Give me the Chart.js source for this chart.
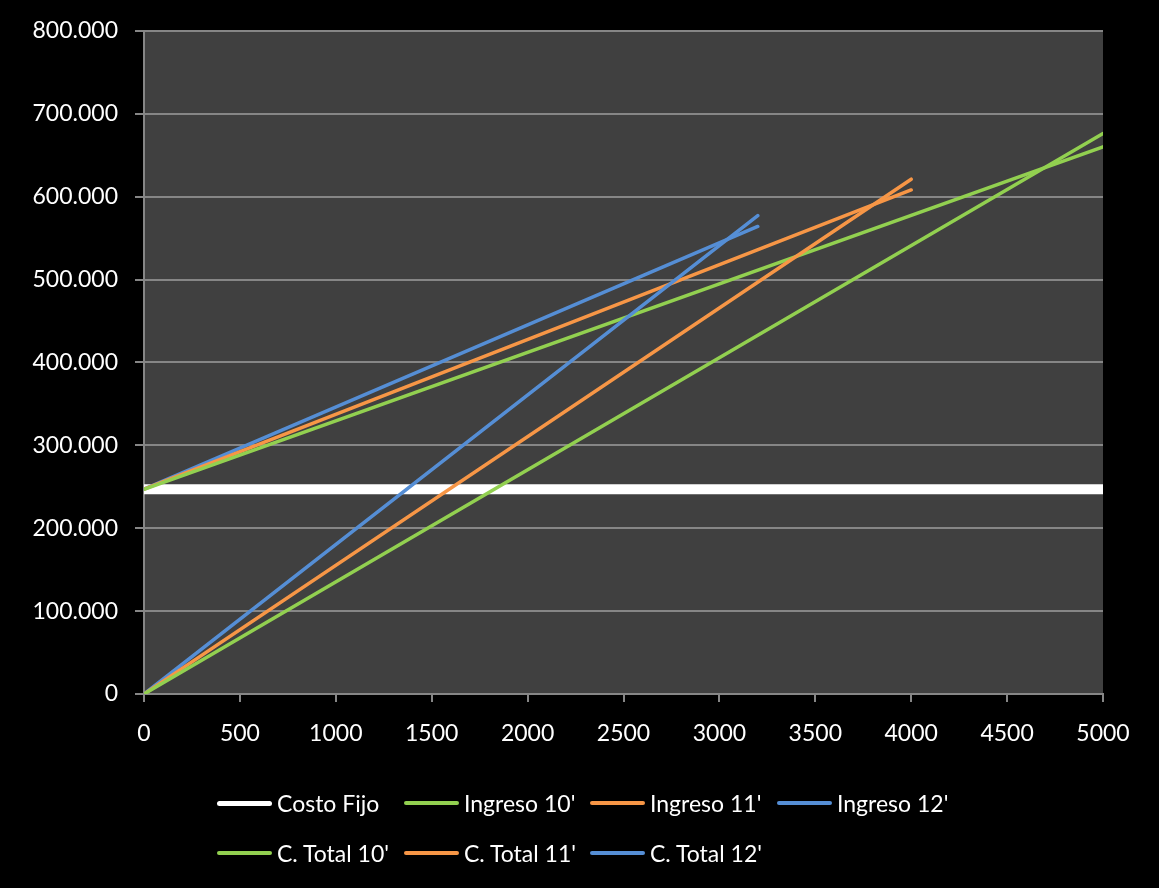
<!DOCTYPE html>
<html>
<head>
<meta charset="utf-8">
<script src="https://cdn.jsdelivr.net/npm/chart.js"></script>
<style>
  html, body { margin: 0; padding: 0; background: #000; }
  #wrap { position: relative; width: 1159px; height: 888px; overflow: hidden; }
  #legend { position: absolute; left: 0; top: 0; width: 1159px; height: 888px; pointer-events: none;
    font-family: Lato, sans-serif; font-size: 23px; color: #fff; }
  .item { position: absolute; display: flex; align-items: center; height: 30px; white-space: nowrap; }
  .swatch { width: 55px; border-radius: 3px; margin-right: 5px; }
</style>
</head>
<body>
<div id="wrap">
  <canvas id="myChart" width="1159" height="888"></canvas>
  <div id="legend"></div>
</div>
<script>
// unidades (eje x) y montos (eje y)
const xFijo = [0, 5000];
const costoFijo = [247000, 247000];

const x10 = [0, 5000];
const ingreso10 = [0, 676000];
const total10 = [247000, 660000];

const x11 = [0, 4000];
const ingreso11 = [0, 621000];
const total11 = [247000, 608000];

const x12 = [0, 3200];
const ingreso12 = [0, 577000];
const total12 = [247000, 564000];

const xTicks = [0, 500, 1000, 1500, 2000, 2500, 3000, 3500, 4000, 4500, 5000];
const yTicks = [0, 100000, 200000, 300000, 400000, 500000, 600000, 700000, 800000];

const verde = "#92D050";
const naranja = "#F79646";
const azul = "#558ED5";

function pts(xs, ys) {
	return xs.map((x, i) => ({ x: x, y: ys[i] }));
}

function serie(label, xs, ys, color, width, order) {
	return {
		label: label,
		data: pts(xs, ys),
		borderColor: color,
		backgroundColor: color,
		borderWidth: width,
		borderCapStyle: order > 0 ? "butt" : "round",
		pointRadius: 0,
		fill: false,
		tension: 0,
		order: order
	};
}

function miles(v) {
	return String(v).replace(/\B(?=(\d{3})+(?!\d))/g, ".");
}

const plotBg = {
	id: "plotBg",
	beforeDraw(chart) {
		const a = chart.chartArea;
		const ctx = chart.ctx;
		ctx.save();
		ctx.fillStyle = "#404040";
		ctx.fillRect(a.left, a.top, a.right - a.left, a.bottom - a.top);
		ctx.restore();
	}
};

const tickFont = { family: "Lato", size: 23 };

const myChart = new Chart(document.getElementById("myChart").getContext("2d"), {
	type: "line",
	data: {
		datasets: [
			serie("Costo Fijo", xFijo, costoFijo, "#FFFFFF", 10, 10),
			serie("Ingreso 10'", x10, ingreso10, verde, 3.5, 0),
			serie("Ingreso 11'", x11, ingreso11, naranja, 3.5, 0),
			serie("Ingreso 12'", x12, ingreso12, azul, 3.5, 0),
			serie("C. Total 10'", x10, total10, verde, 3.5, 0),
			serie("C. Total 11'", x11, total11, naranja, 3.5, 0),
			serie("C. Total 12'", x12, total12, azul, 3.5, 0)
		]
	},
	options: {
		responsive: false,
		animation: false,
		devicePixelRatio: 1,
		layout: { padding: { left: 0, right: 56, top: 30, bottom: 0 } },
		plugins: {
			legend: { display: false },
			tooltip: { enabled: false }
		},
		scales: {
			x: {
				type: "linear",
				min: 0,
				max: 5000,
				afterBuildTicks: (s) => { s.ticks = xTicks.map(v => ({ value: v })); },
				afterFit: (s) => { s.height = 194; },
				ticks: { color: "#FFFFFF", font: tickFont, padding: 18, maxRotation: 0, callback: v => String(v) },
				grid: { drawOnChartArea: false, drawTicks: true, tickLength: 8, color: "#868686", lineWidth: 2 },
				border: { color: "#868686", width: 2 }
			},
			y: {
				type: "linear",
				min: 0,
				max: 800000,
				afterBuildTicks: (s) => { s.ticks = yTicks.map(v => ({ value: v })); },
				afterFit: (s) => { s.width = 144; },
				ticks: { color: "#FFFFFF", font: tickFont, padding: 17, callback: v => miles(v) },
				grid: { drawOnChartArea: true, drawTicks: true, tickLength: 9, color: "#868686", lineWidth: 2 },
				border: { color: "#868686", width: 2 }
			}
		}
	},
	plugins: [plotBg]
});

// leyenda en cuadricula, como la del original
const legendEl = document.getElementById("legend");
const colLeft = [217, 404, 590, 777];
const rowTop = [788, 838];
myChart.data.datasets.forEach((ds, i) => {
	const row = i < 4 ? 0 : 1;
	const col = i < 4 ? i : i - 4;
	const item = document.createElement("div");
	item.className = "item";
	item.style.left = colLeft[col] + "px";
	item.style.top = rowTop[row] + "px";
	const sw = document.createElement("span");
	sw.className = "swatch";
	sw.style.background = ds.borderColor;
	sw.style.height = (i === 0 ? 5 : 4) + "px";
	const tx = document.createElement("span");
	tx.textContent = ds.label;
	item.appendChild(sw);
	item.appendChild(tx);
	legendEl.appendChild(item);
});
</script>
</body>
</html>
